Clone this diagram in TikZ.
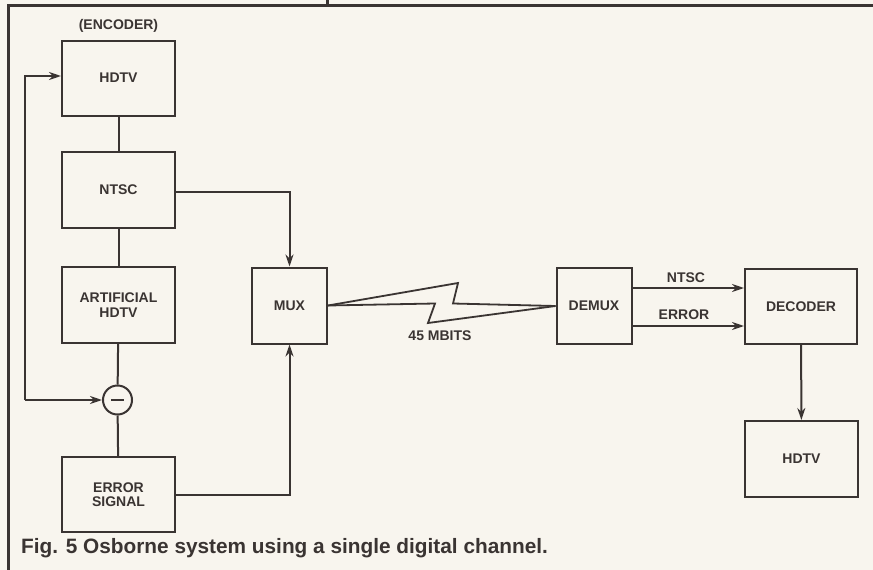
\documentclass[tikz,border=0pt]{standalone}
\usepackage{fontspec}
\setmainfont{Liberation Sans}
\usetikzlibrary{arrows.meta}
\definecolor{paper}{HTML}{F8F5EE}
\definecolor{ink}{HTML}{3A3432}
\tikzset{
  blk/.style={draw=ink, line width=2pt, minimum width=113pt, minimum height=75pt,
    inner sep=0pt, align=center, font=\fontsize{14}{15.5}\selectfont\bfseries, text=ink},
  sblk/.style={blk, minimum width=75pt, minimum height=76pt},
  wire/.style={draw=ink, line width=2pt},
  arr/.style={wire, -{Stealth[length=12pt,width=8pt]}},
  lbl/.style={font=\fontsize{14}{15.5}\selectfont\bfseries, text=ink, inner sep=0pt}
}
\begin{document}
\begin{tikzpicture}[x=1pt,y=-1pt]
\fill[paper] (0,0) rectangle (873,570);
\useasboundingbox (0,0) rectangle (873,570);
% frame
\coordinate (ftl) at (8,5);
\coordinate (ftr) at (873,5);
\coordinate (fbl) at (8,570);
\coordinate (stubt) at (327,0);
\coordinate (stubb) at (327,5);
\draw[ink, line width=3pt] (fbl) -- (ftl) -- (ftr);
\draw[ink, line width=3pt] (stubt) -- (stubb);
% encoder column
\node[lbl] (enc) at (118.5,26) {(ENCODER)};
\node[blk] (hdtvA) at (118.5,78) {HDTV};
\node[blk, minimum height=76pt] (ntsc) at (118.5,190) {NTSC};
\node[blk, minimum height=76pt] (art) at (118.5,305) {ARTIFICIAL\\[-1pt]HDTV};
\node[draw=ink, line width=2pt, circle, minimum size=29pt, inner sep=0pt] (sub) at (117.5,400) {};
\draw[ink, line width=2pt] ([xshift=-6.5pt]sub.center) -- ([xshift=6.5pt]sub.center);
\node[blk] (err) at (118.5,494.5) {ERROR\\[-1pt]SIGNAL};
% mux / demux / decoder
\node[sblk] (mux) at (289.5,305.5) {MUX};
\node[sblk] (demux) at (594,306) {DEMUX};
\node[blk, minimum width=112pt] (dec) at (801,306.5) {DECODER};
\node[blk, minimum height=76pt] (hdtvB) at (801.5,459) {HDTV};
% vertical chain
\draw[wire] (hdtvA) -- (ntsc);
\draw[wire] (ntsc) -- (art);
\draw[wire] (art) -- (sub);
\draw[wire] (sub) -- (err);
% feedback loop
\coordinate (lpb) at (25,400);
\coordinate (lpt) at (25,76);
\draw[arr] (lpb) -- (sub.west);
\draw[arr] (lpb) -- (lpt) -- (lpt -| hdtvA.west);
% to mux
\coordinate (nt) at (175,192);
\draw[arr] (ntsc.east |- nt) -| (mux.north);
\draw[arr] (err.east) -| (mux.south);
% lightning link
\coordinate (lA) at (458,283);
\coordinate (lB) at (453,303.5);
\coordinate (lC) at (435,303.5);
\coordinate (lD) at (428,323);
\draw[wire, line width=1.8pt, line join=miter] (mux.east) -- (lA) -- (lB) -- (demux.west);
\draw[wire, line width=1.8pt, line join=miter] (mux.east) -- (lC) -- (lD) -- (demux.west);
\node[lbl] (mbits) at (440,336) {45 MBITS};
% demux to decoder
\coordinate (nta) at (632,288);
\coordinate (era) at (632,326);
\draw[arr] (nta) -- (nta -| dec.west);
\draw[arr] (era) -- (era -| dec.west);
\node[lbl] (ntl) at (686,278) {NTSC};
\node[lbl] (erl) at (684,315) {ERROR};
\draw[arr] (dec) -- (hdtvB);
% caption
\node[anchor=west, inner sep=0pt, text=ink, font=\fontsize{20.8}{23}\selectfont\bfseries] (cap) at (21,548) {Fig. 5 Osborne system using a single digital channel.};
\end{tikzpicture}
\end{document}
